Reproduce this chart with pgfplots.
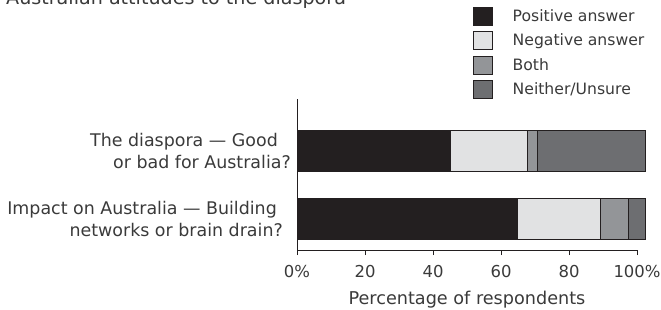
\documentclass[border=0pt]{standalone}
\usepackage{pgfplots}
\pgfplotsset{compat=1.18}
\usepackage{fontspec}
\setmainfont{DejaVu Sans}
\definecolor{cpos}{HTML}{231F20}
\definecolor{cneg}{HTML}{E1E2E3}
\definecolor{cboth}{HTML}{939598}
\definecolor{cnei}{HTML}{6D6E71}
\definecolor{ctxt}{HTML}{3A3A3A}
\definecolor{cedge}{HTML}{231F20}
\begin{document}
\begin{tikzpicture}[x=1bp,y=1bp]
\path[use as bounding box] (0,0) rectangle (661,309);
\node[anchor=base west, inner sep=0pt, text=ctxt, font=\fontsize{19.2}{23}\selectfont] at (6,304.5) {Australian attitudes to the diaspora};
\begin{axis}[
  at={(297bp,59bp)}, anchor=south west,
  scale only axis, width=340bp, height=151bp,
  xbar stacked, bar width=41bp,
  xmin=0, xmax=100, ymin=-0.4559, ymax=1.7647,
  clip=false,
  axis x line*=bottom, axis y line*=left,
  axis line style={draw=cedge, line width=0.8bp},
  xtick={0,20,40,60,80,100}, xticklabels={0\%,20,40,60,80,100\%},
  ytick=\empty,
  tick align=outside, major tick length=5bp,
  tick style={draw=cedge, line width=0.8bp},
  xticklabel style={font=\fontsize{16.5}{20}\selectfont, text=ctxt, inner sep=0pt, anchor=base, yshift=-22bp},
  /pgf/number format/assume math mode=true,
  xlabel={Percentage of respondents},
  xlabel style={font=\fontsize{17.7}{21}\selectfont, text=ctxt, inner sep=0pt, anchor=base, at={(axis description cs:0.5,0)}, yshift=-54bp},
  legend cell align=left,
  legend style={at={(rel axis cs:0.5176,1.609)}, anchor=north west, draw=none, fill=none,
    inner sep=0pt, outer sep=0pt, row sep=5.7bp, column sep=20bp,
    font=\fontsize{15.7}{18}\selectfont, text=ctxt,
    nodes={inner sep=0pt, outer sep=0pt, minimum height=18bp}},
  legend image code/.code={\draw[#1, line width=0.7bp] (0bp,-9bp) rectangle (19bp,9bp);},
]
\addplot[fill=cpos, draw=cedge, line width=0.7bp] coordinates {(64.7,0) (45.2,1)};
\addplot[fill=cneg, draw=cedge, line width=0.7bp] coordinates {(24.4,0) (22.4,1)};
\addplot[fill=cboth, draw=cedge, line width=0.7bp] coordinates {(8.3,0) (3.0,1)};
\addplot[fill=cnei, draw=cedge, line width=0.7bp] coordinates {(5.1,0) (31.9,1)};
\legend{Positive answer, Negative answer, Both, Neither/Unsure}
\node[anchor=east, align=right, inner sep=0pt, text=ctxt, font=\fontsize{17.5}{22}\selectfont, xshift=-6bp] at (axis cs:0,1) {The diaspora --- Good\kern13bp\\or bad for Australia?};
\node[anchor=east, align=right, inner sep=0pt, text=ctxt, font=\fontsize{17.5}{22}\selectfont, xshift=-14bp] at (axis cs:0,0) {Impact on Australia --- Building\kern6bp\\networks or brain drain?};
\end{axis}
\end{tikzpicture}
\end{document}
